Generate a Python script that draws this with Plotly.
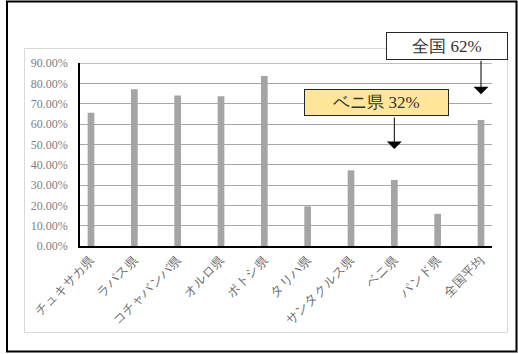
import plotly.graph_objects as go

categories = ["チュキサカ県", "ラパス県", "コチャバンバ県", "オルロ県", "ポトシ県",
              "タリハ県", "サンタクルス県", "ベニ県", "パンド県", "全国平均"]
values = [0.655, 0.771, 0.740, 0.736, 0.836, 0.195, 0.372, 0.325, 0.158, 0.620]
y_ticks = [0.0, 0.1, 0.2, 0.3, 0.4, 0.5, 0.6, 0.7, 0.8, 0.9]

W, H = 518, 354
L, R, T, B = 80, 26, 63, 108
PW, PH = W - L - R, H - T - B


def px_x(p):
    return (p - L) / PW


def px_y(p):
    return (H - B - p) / PH


FONT = "Liberation Serif"

fig = go.Figure(go.Bar(
    x=list(range(len(categories))), y=values,
    marker=dict(color="#A5A5A5", line=dict(width=0)),
    width=0.155,
))

fig.update_layout(
    width=W, height=H,
    margin=dict(l=L, r=R, t=T, b=B),
    paper_bgcolor="white", plot_bgcolor="white",
    showlegend=False,
    font=dict(family=FONT, size=11, color="#595959"),
    xaxis=dict(
        tickmode="array", tickvals=list(range(len(categories))), ticktext=categories,
        tickangle=-45, range=[-0.254, len(categories) - 1 + 0.254],
        showline=True, linecolor="black", linewidth=1.5, ticks="",
        showgrid=False, tickfont=dict(size=12.5, color="#666666", family=FONT),
        fixedrange=True,
    ),
    yaxis=dict(
        range=[0, 0.9], tickvals=y_ticks, tickformat=".2%",
        showline=True, linecolor="black", linewidth=1.5, ticks="",
        showgrid=True, gridcolor="#A6A6A6", gridwidth=1, zeroline=False,
        tickfont=dict(size=12, color="#808080", family=FONT),
        ticklabelstandoff=8,
    ),
    shapes=[
        dict(type="rect", xref="paper", yref="paper",
             x0=px_x(24.5), x1=px_x(507.5), y0=px_y(332.5), y1=px_y(48.5),
             line=dict(color="#D9D9D9", width=1), layer="below"),
        dict(type="line", xref="paper", yref="y", x0=0, x1=1, y0=0.9, y1=0.9,
             line=dict(color="#7F7F7F", width=1), layer="below"),
        dict(type="rect", xref="paper", yref="paper",
             x0=px_x(7), x1=px_x(516.5), y0=px_y(351.5), y1=px_y(1.5),
             line=dict(color="black", width=2), layer="above"),
    ],
    annotations=[
        dict(xref="paper", yref="paper", x=px_x(446.7), y=px_y(45.5),
             xanchor="center", yanchor="middle", text="全国 62%", showarrow=False,
             font=dict(size=17, color="#333333", family=FONT),
             bgcolor="white", bordercolor="#262626", borderwidth=1,
             width=118, height=24, borderpad=1),
        dict(xref="paper", yref="paper", x=px_x(376.7), y=px_y(102.5),
             xanchor="center", yanchor="middle", text="ベニ県 32%", showarrow=False,
             font=dict(size=17, color="#333333", family=FONT),
             bgcolor="#FFE699", bordercolor="#262626", borderwidth=1,
             width=141, height=23, borderpad=1),
        dict(xref="x", yref="paper", x=9, y=px_y(94.3), text="",
             showarrow=True, ax=0, ay=-35, axref="pixel", ayref="pixel",
             arrowhead=1, arrowsize=2.5, arrowwidth=1, arrowcolor="black", standoff=0),
        dict(xref="x", yref="paper", x=7, y=px_y(149), text="",
             showarrow=True, ax=0, ay=-33, axref="pixel", ayref="pixel",
             arrowhead=1, arrowsize=2.5, arrowwidth=1, arrowcolor="black", standoff=0),
    ],
)

fig.write_html("out.html")
